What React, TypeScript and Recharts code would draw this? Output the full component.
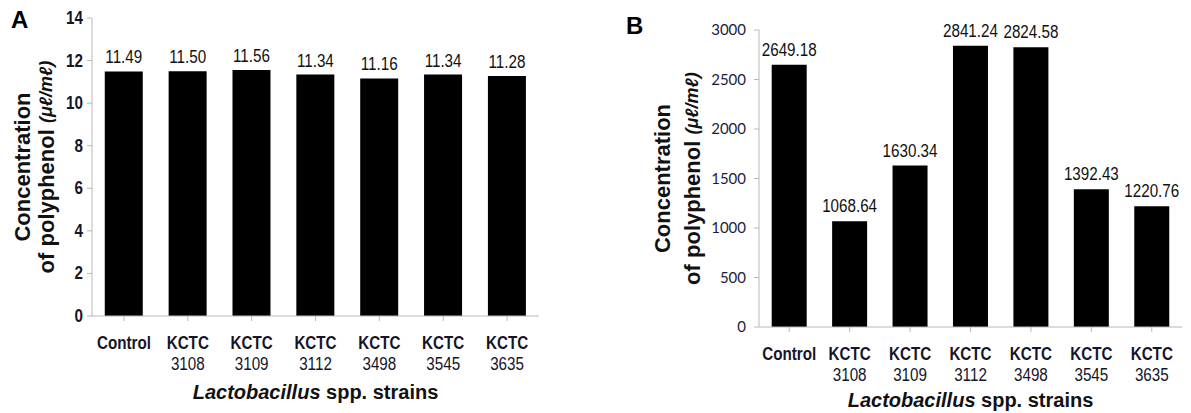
import React from "react";
import { Bar, BarChart, LabelList, XAxis, YAxis } from "recharts";

const strains = ["Control", "KCTC 3108", "KCTC 3109", "KCTC 3112", "KCTC 3498", "KCTC 3545", "KCTC 3635"];
const panelAValues = [11.49, 11.5, 11.56, 11.34, 11.16, 11.34, 11.28];
const panelBValues = [2649.18, 1068.64, 1630.34, 2841.24, 2824.58, 1392.43, 1220.76];
const panelATicks = [0, 2, 4, 6, 8, 10, 12, 14];
const panelBTicks = [0, 500, 1000, 1500, 2000, 2500, 3000];

const arial = "'Liberation Sans', Arial, sans-serif";
const axisGrey = "#b8b8b8";
const squeeze = 0.8; // fake Arial Narrow

const dataA = strains.map((name, i) => ({ name, value: panelAValues[i] }));
const dataB = strains.map((name, i) => ({ name, value: panelBValues[i] }));

function StrainTick(props: any) {
  const { x, y, payload } = props;
  const [first, second] = String(payload.value).split(" ");
  return (
    <g transform={`translate(${x},${y}) scale(${squeeze},1)`}>
      <text textAnchor="middle" fontFamily={arial} fontSize={19} fill="#15152a">
        <tspan x={0} dy={26} fontWeight="bold">{first}</tspan>
        {second && (
          <tspan x={0} dy={21}>{second}</tspan>
        )}
      </text>
    </g>
  );
}

function ATick(props: any) {
  const { x, y, payload } = props;
  return (
    <g transform={`translate(${x},${y}) scale(${squeeze},1)`}>
      <text textAnchor="end" dy={6} fontFamily={arial} fontSize={19} fontWeight="bold" fill="#15152a">
        {payload.value}
      </text>
    </g>
  );
}

function ValueLabel(props: any) {
  const { x, y, width, value, offset } = props;
  return (
    <g transform={`translate(${x + width / 2},${y - offset}) scale(${squeeze},1)`}>
      <text textAnchor="middle" fontFamily={arial} fontSize={19} fill="#111">
        {Number(value).toFixed(2)}
      </text>
    </g>
  );
}

function XTitle(props: any) {
  const { viewBox, dy } = props;
  const cx = viewBox.x + viewBox.width / 2;
  return (
    <text x={cx} y={viewBox.y + dy} textAnchor="middle" fontFamily={arial} fontSize={20} fontWeight="bold" fill="#111">
      <tspan fontStyle="italic">Lactobacillus</tspan>
      <tspan> spp. strains</tspan>
    </text>
  );
}

function YTitle(props: any) {
  const { viewBox, x1, x2 } = props;
  const cy = viewBox.y + viewBox.height / 2;
  return (
    <g>
      <text transform={`translate(${x1},${cy}) rotate(-90)`} textAnchor="middle" dominantBaseline="central"
        fontFamily={arial} fontSize={22} fontWeight="bold" fill="#111">
        Concentration
      </text>
      <text transform={`translate(${x2},${cy}) rotate(-90)`} textAnchor="middle" dominantBaseline="central"
        fontFamily={arial} fontSize={22} fontWeight="bold" fill="#111">
        of polyphenol <tspan fontStyle="italic" fontSize={18}>(μℓ/mℓ)</tspan>
      </text>
    </g>
  );
}

export default function App() {
  return (
    <div style={{ position: "absolute", left: 0, top: 0, width: 1191, height: 413, background: "#fff" }}>
      <div style={{ position: "absolute", left: 11, top: 6, fontFamily: arial, fontWeight: "bold", fontSize: 24 }}>A</div>
      <div style={{ position: "absolute", left: 626, top: 12, fontFamily: arial, fontWeight: "bold", fontSize: 24 }}>B</div>

      <div style={{ position: "absolute", left: 0, top: 0 }}>
        <BarChart width={560} height={413} data={dataA} margin={{ top: 18, right: 21, left: 52, bottom: 0 }} barCategoryGap="20%">
          <XAxis dataKey="name" height={97} interval={0} stroke={axisGrey} tickSize={5} tick={<StrainTick />}
            label={<XTitle dy={83} />} />
          <YAxis width={40} domain={[0, 14]} ticks={panelATicks} stroke={axisGrey} tickSize={5} tickMargin={4}
            tick={<ATick />} label={<YTitle x1={22} x2={46} />} />
          <Bar dataKey="value" fill="#000" isAnimationActive={false}>
            <LabelList dataKey="value" position="top" offset={8} content={<ValueLabel />} />
          </Bar>
        </BarChart>
      </div>

      <div style={{ position: "absolute", left: 600, top: 0 }}>
        <BarChart width={591} height={413} data={dataB} margin={{ top: 30, right: 9, left: 109, bottom: 0 }} barCategoryGap="21%">
          <XAxis dataKey="name" height={86} interval={0} stroke={axisGrey} tickSize={5} tick={<StrainTick />}
            label={<XTitle dy={80} />} />
          <YAxis width={50} domain={[0, 3000]} ticks={panelBTicks} stroke={axisGrey} tickSize={5} tickMargin={8}
            tick={{ fontFamily: "Lato, 'Open Sans', sans-serif", fontSize: 15, fill: "#1c1c3a" }}
            label={<YTitle x1={62} x2={92} />} />
          <Bar dataKey="value" fill="#000" isAnimationActive={false}>
            <LabelList dataKey="value" position="top" offset={9} content={<ValueLabel />} />
          </Bar>
        </BarChart>
      </div>
    </div>
  );
}
